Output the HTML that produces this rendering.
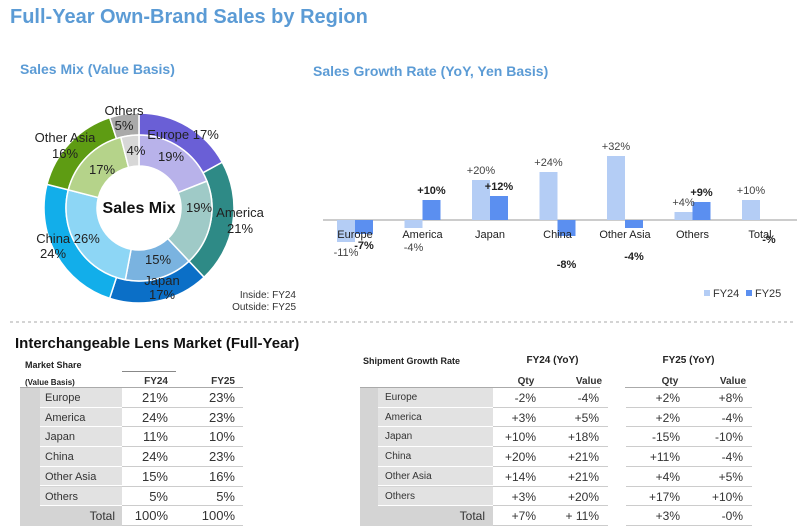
<!DOCTYPE html>
<html><head><meta charset="utf-8">
<style>
body{margin:0;width:800px;height:529px;background:#fff;font-family:"Liberation Sans",sans-serif;overflow:hidden;position:relative}
.a{position:absolute;white-space:nowrap}
.t{font-size:11px;color:#333}
</style></head><body>
<div class="a" style="left:10px;top:6px;font-size:20px;font-weight:bold;color:#5b9bd5">Full-Year Own-Brand Sales by Region</div>
<div class="a" style="left:20px;top:61px;font-size:14px;font-weight:bold;color:#5b9bd5">Sales Mix (Value Basis)</div>
<div class="a" style="left:313px;top:63px;font-size:14px;font-weight:bold;color:#5b9bd5">Sales Growth Rate (YoY, Yen Basis)</div>

<svg class="a" style="left:0;top:0" width="800" height="330">
<g id="donut"></g>
<g id="bars"></g>
<line x1="10" y1="322" x2="795" y2="322" stroke="#aaa" stroke-dasharray="3,3"/>
</svg>

<div class="a" style="left:15px;top:335px;font-size:15px;font-weight:bold;color:#111">Interchangeable Lens Market (Full-Year)</div>
<div id="tables"></div>

<script>
const regions=["Europe","America","Japan","China","Other Asia","Others"];
const mixFY24=[19,19,15,26,17,4];
const mixFY25=[17,21,17,24,16,5];
const outerCol=["#6a5fd6","#2e8a86","#0b6fc7","#12aeea","#5e9c13","#a9a9a9"];
const innerCol=["#b8b2ea","#9fcac7","#7ab3e0","#8dd6f5","#b5d38a","#d7d7d7"];
const NS="http://www.w3.org/2000/svg";
function mk(tag,attrs,parent){const e=document.createElementNS(NS,tag);for(const k in attrs)e.setAttribute(k,attrs[k]);parent.appendChild(e);return e;}
const cx=139,cy=208;
function arc(r0,r1,a0,a1){const p=(r,a)=>[cx+r*Math.sin(a),cy-r*Math.cos(a)];const l=(a1-a0)>Math.PI?1:0;
const [x1,y1]=p(r1,a0),[x2,y2]=p(r1,a1),[x3,y3]=p(r0,a1),[x4,y4]=p(r0,a0);
return `M${x1},${y1}A${r1},${r1} 0 ${l} 1 ${x2},${y2}L${x3},${y3}A${r0},${r0} 0 ${l} 0 ${x4},${y4}Z`;}
const dg=document.getElementById('donut');
function ring(vals,cols,r0,r1,nm){const tot=vals.reduce((a,b)=>a+b,0);let a=0;vals.forEach((v,i)=>{const a1=a+v/tot*2*Math.PI;
const p=mk('path',{d:arc(r0,r1,a,a1),fill:cols[i],stroke:'#fff','stroke-width':1.5},dg);

a=a1;});}
ring(mixFY25,outerCol,73,95,'outer-slice');
ring(mixFY24,innerCol,42,73,'inner-slice');
const lbls=[["Others",124,115],["5%",124,130],["Europe 17%",183,139],["19%",171,161],["Other Asia",65,142],["16%",65,158],["17%",102,174],["4%",136,155],["19%",199,212],["America",240,217],["21%",240,233],["China 26%",68,243],["24%",53,258],["15%",158,264],["Japan",162,285],["17%",162,299]];
lbls.forEach(l=>{const t=mk('text',{x:l[1],y:l[2],'font-size':13,fill:'#222','text-anchor':'middle'},dg);t.textContent=l[0];});
let t=mk('text',{x:cx,y:213,'font-size':16,'font-weight':'bold','text-anchor':'middle',fill:'#111'},dg);t.textContent="Sales Mix";
t=mk('text',{x:296,y:298,'font-size':10,'text-anchor':'end',fill:'#333'},dg);t.textContent="Inside: FY24";
t=mk('text',{x:296,y:310,'font-size':10,'text-anchor':'end',fill:'#333'},dg);t.textContent="Outside: FY25";

const cats=["Europe","America","Japan","China","Other Asia","Others","Total"];
const fy24=[-11,-4,20,24,32,4,10];
const fy25=[-7,10,12,-8,-4,9,0];
const fy24Lbl=["-11%","-4%","+20%","+24%","+32%","+4%","+10%"];
const fy25Lbl=["-7%","+10%","+12%","-8%","-4%","+9%","-%"];
const bg=document.getElementById('bars');
const x0=355,step=67.5,base=220,k=2.0,bw=18;
const xs=i=>x0+i*step, ys=v=>base-v*k;
mk('line',{x1:323,y1:base,x2:797,y2:base,stroke:'#999','stroke-width':1},bg);
cats.forEach((c,i)=>{
 const b1=mk('rect',{x:xs(i)-bw,y:Math.min(ys(fy24[i]),base),width:bw,height:Math.abs(fy24[i]*k),fill:'#b4cdf5'},bg);
 
 
 const b2=mk('rect',{x:xs(i),y:Math.min(ys(fy25[i]),base),width:bw,height:Math.abs(fy25[i]*k),fill:'#5b8ff0'},bg);
 
 
 let tt=mk('text',{x:xs(i),y:238,'font-size':11,'text-anchor':'middle',fill:'#222'},bg);tt.textContent=c;
 const y1=fy24[i]>=0?ys(fy24[i])-6:Math.max(ys(fy24[i])+14,251);
 tt=mk('text',{x:xs(i)-bw/2,y:y1,'font-size':11,'text-anchor':'middle',fill:'#444'},bg);tt.textContent=fy24Lbl[i];
 const y2=fy25[i]>0?ys(fy25[i])-6:(i==0?249:Math.max(ys(fy25[i])+32,249));
 tt=mk('text',{x:xs(i)+bw/2,y:fy25[i]==0?243:y2,'font-size':11,'font-weight':'bold','text-anchor':'middle',fill:'#222'},bg);tt.textContent=fy25Lbl[i];
});
mk('rect',{x:704,y:290,width:6,height:6,fill:'#b4cdf5'},bg);
t=mk('text',{x:713,y:297,'font-size':11,fill:'#333'},bg);t.textContent="FY24";
mk('rect',{x:746,y:290,width:6,height:6,fill:'#5b8ff0'},bg);
t=mk('text',{x:755,y:297,'font-size':11,fill:'#333'},bg);t.textContent="FY25";

// tables
const share24=["21%","24%","11%","24%","15%","5%","100%"];
const share25=["23%","23%","10%","23%","16%","5%","100%"];
const q24=["-2%","+3%","+10%","+20%","+14%","+3%","+7%"];
const v24=["-4%","+5%","+18%","+21%","+21%","+20%","+ 11%"];
const q25=["+2%","+2%","-15%","+11%","+4%","+17%","+3%"];
const v25=["+8%","-4%","-10%","-4%","+5%","+10%","-0%"];
let h='';
const rowY=i=>388+i*19.7, rh=19.7;
h+=`<div class="a" style="left:20px;top:388px;width:102px;height:138px;background:#d4d4d4"></div>`;
h+=`<div class="a" style="left:25px;top:360px;font-size:9px;font-weight:bold;color:#222">Market Share</div><div class="a" style="left:25px;top:378px;font-size:8px;font-weight:bold;color:#222">(Value Basis)</div>`;
h+=`<div class="a" style="left:122px;top:371px;width:54px;border-top:1px solid #888"></div>`;
h+=`<div class="a t" style="left:128px;top:376px;width:40px;text-align:right;font-weight:bold;font-size:10px">FY24</div><div class="a t" style="left:195px;top:376px;width:40px;text-align:right;font-weight:bold;font-size:10px">FY25</div>`;
h+=`<div class="a" style="left:20px;top:387px;width:223px;border-top:1px solid #aaa"></div>`;
h+=`<div class="a" style="left:360px;top:388px;width:133px;height:138px;background:#d4d4d4"></div>`;
h+=`<div class="a" style="left:363px;top:356px;font-size:9px;font-weight:bold;color:#222">Shipment Growth Rate</div>`;
h+=`<div class="a" style="left:500px;top:355px;width:105px;text-align:center;font-size:10px;font-weight:bold;color:#222">FY24 (YoY)</div>`;
h+=`<div class="a" style="left:636px;top:355px;width:105px;text-align:center;font-size:10px;font-weight:bold;color:#222">FY25 (YoY)</div>`;
[["Qty",486,536],["Value",549,599],["Qty",630,680],["Value",693,743]].forEach(c=>{h+=`<div class="a t" style="top:376px;width:50px;text-align:center;font-weight:bold;font-size:10px;left:${c[2]-35}px">${c[0]}</div>`;});
h+=`<div class="a" style="left:360px;top:387px;width:387px;border-top:1px solid #aaa"></div><div class="a" style="left:600px;top:385px;width:25px;height:4px;background:#fff"></div>`;
for(let i=0;i<7;i++){
 const y=rowY(i);
 if(i<6){
  h+=`<div class="a" style="left:40px;top:${y}px;width:82px;height:${rh-1}px;background:#e2e2e2;border-bottom:1px solid #fff"></div><div class="a t" style="left:45px;top:${y+4}px">${regions[i]}</div>`;
  h+=`<div class="a" style="left:378px;top:${y}px;width:115px;height:${rh-1}px;background:#e2e2e2;border-bottom:1px solid #fff"></div><div class="a t" style="left:385px;top:${y+4}px;font-size:10px">${regions[i]}</div>`;
 } else {
  h+=`<div class="a t" style="left:60px;top:${y+3}px;width:55px;text-align:right;font-size:12px">Total</div>`;
  h+=`<div class="a t" style="left:430px;top:${y+3}px;width:55px;text-align:right;font-size:12px">Total</div>`;
 }
 h+=`<div class="a" style="left:122px;top:${y+rh-1}px;width:121px;border-top:1px solid #ccc"></div>`;
 h+=`<div class="a" style="left:493px;top:${y+rh-1}px;width:115px;border-top:1px solid #ccc"></div><div class="a" style="left:626px;top:${y+rh-1}px;width:126px;border-top:1px solid #ccc"></div>`;
 h+=`<div class="a" style="left:118px;top:${y+2}px;width:50px;text-align:right;font-size:13px;color:#333">${share24[i]}</div>`;
 h+=`<div class="a" style="left:185px;top:${y+2}px;width:50px;text-align:right;font-size:13px;color:#333">${share25[i]}</div>`;
 [[q24,536],[v24,599],[q25,680],[v25,743]].forEach(c=>{h+=`<div class="a" style="left:${c[1]-50}px;top:${y+3}px;width:50px;text-align:right;font-size:12px;color:#333">${c[0][i]}</div>`;});
}
document.getElementById('tables').innerHTML=h;
</script>
</body></html>
